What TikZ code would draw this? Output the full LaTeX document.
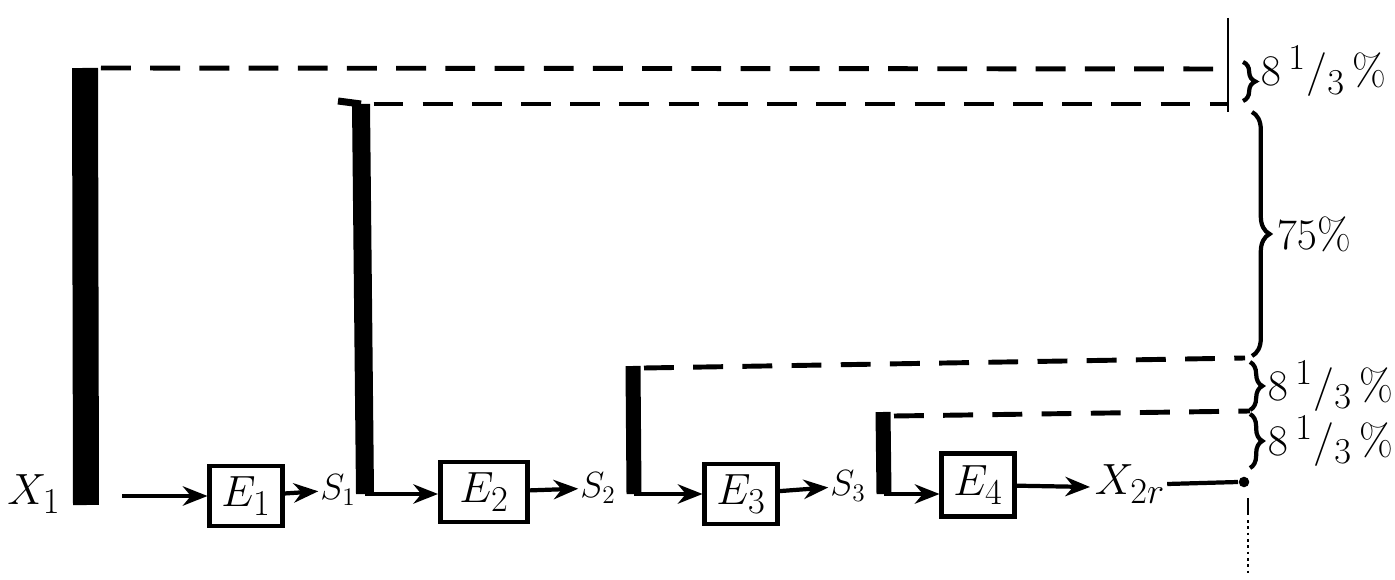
\documentclass[tikz,border=0pt]{standalone}
\usetikzlibrary{arrows.meta, decorations.pathreplacing}

\newcommand{\third}{$8\,{}^{1}/{}_{3}\,\%$}

\begin{document}
\begin{tikzpicture}[x=0.02cm, y=-0.02cm,
    stage/.style={draw, line width=2.6pt, minimum width=1.45cm, minimum height=1.2cm, inner sep=0pt, font=\Huge},
    flow/.style={-{Stealth[length=14pt,width=11pt]}, line width=2.4pt},
    guide/.style={line width=2.8pt, dash pattern=on 17pt off 11pt},
    share/.style={decorate, decoration={brace, amplitude=7pt}, line width=2.4pt},
    lab/.style={font=\Huge, inner sep=1pt},
    sig/.style={font=\huge, inner sep=1pt}]

    \useasboundingbox (0,0) rectangle (1395,580);

    % Define the tops and feet of the bars
    \coordinate (t1) at (85,68);   \coordinate (f1) at (86,505);
    \coordinate (t2) at (361,104); \coordinate (f2) at (365,494);
    \coordinate (t3) at (633,366); \coordinate (f3) at (634,494);
    \coordinate (t4) at (883,412); \coordinate (f4) at (884,494);

    % Draw the bars
    \draw[line width=0.52cm] (t1) -- (f1);
    \draw[line width=0.36cm] (t2) -- (f2);
    \draw[line width=4pt] (338,101) -- (t2);
    \draw[line width=0.3cm] (t3) -- (f3);
    \draw[line width=0.3cm] (t4) -- (f4);

    % Draw the dashed guides
    \coordinate (r1) at (1228,69);
    \coordinate (r2) at (1228,104);
    \coordinate (r3) at (1245,358);
    \coordinate (r4) at (1250,411);
    \draw[guide] ([xshift=0.32cm]t1) -- (r1);
    \draw[guide] ([xshift=0.25cm]t2) -- (r2);
    \draw[guide] ([xshift=0.22cm, yshift=-0.04cm]t3) -- (r3);
    \draw[guide] ([xshift=0.22cm, yshift=-0.08cm]t4) -- (r4);
    \draw[line width=1.6pt] (1228,18) -- (1228,112);

    % Draw the braces with their shares
    \draw[share] (1243,62) -- (1243,101) node[midway, right=8pt, lab, yshift=0.2cm] {\third};
    \draw[share, decoration={amplitude=10pt}] (1252,112) -- (1252,356) node[midway, right=12pt, lab] {$75\%$};
    \draw[share] (1250,362) -- (1250,410) node[midway, right=8pt, lab] {\third};
    \draw[share] (1250,414) -- (1250,468) node[midway, right=8pt, lab] {\third};

    % Draw the stages
    \node[lab] (X1) at (34,494) {$X_1$};
    \coordinate (a0) at (122,496);
    \node[stage] (E1) at (246,496) {$E_1$};
    \node[sig] (S1) at (338,490) {$S_1$};
    \node[stage, minimum width=1.75cm] (E2) at (484,492) {$E_2$};
    \node[sig] (S2) at (598,488) {$S_2$};
    \node[stage] (E3) at (741,494) {$E_3$};
    \node[sig] (S3) at (848,486) {$S_3$};
    \node[stage, minimum height=1.25cm] (E4) at (978,485) {$E_4$};
    \coordinate (a4) at (1090,487);
    \node[lab] (X2r) at (1130,484) {$X_{2r}$};
    \coordinate (xend) at (1238,482);

    % Draw the flow arrows
    \draw[flow] (a0) -- (E1);
    \draw[flow] (E1) -- (S1);
    \draw[flow] (f2) -- (f2 -| E2.west);
    \draw[flow] (E2) -- (S2);
    \draw[flow] (f3) -- (f3 -| E3.west);
    \draw[flow] (E3) -- (S3);
    \draw[flow] (f4) -- (f4 -| E4.west);
    \draw[flow] (E4) -- (a4);
    \draw[line width=2.4pt] (X2r.east) -- (xend);
    \fill (1244,482) circle (3pt);

    % Draw the dotted end marker
    \draw[line width=1.6pt] (1248,498) -- (1248,515);
    \draw[line width=1.6pt, dotted] (1248,520) -- (1248,575);

\end{tikzpicture}
\end{document}
